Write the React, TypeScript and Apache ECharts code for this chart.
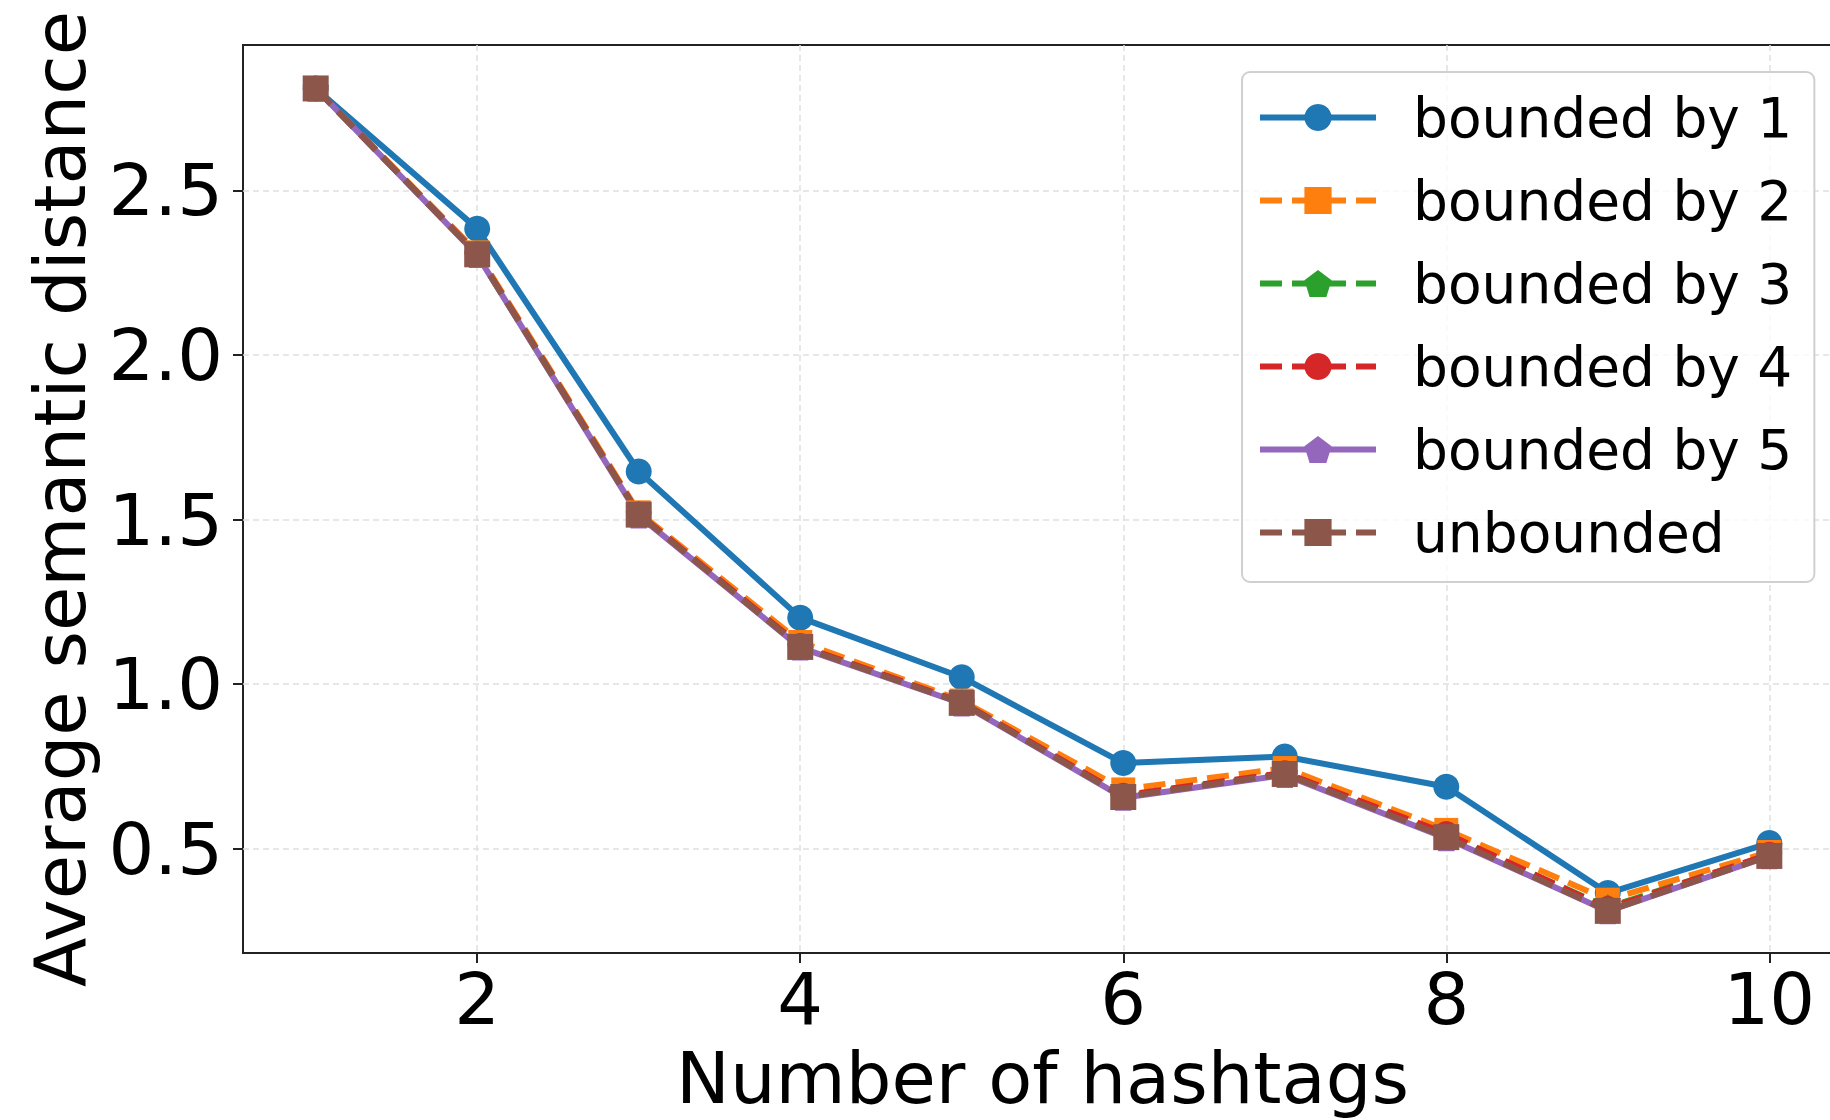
import React, { useEffect, useRef } from "react";
import * as echarts from "echarts";

const hashtags = [1, 2, 3, 4, 5, 6, 7, 8, 9, 10];
const boundedBy1 = [2.81, 2.384, 1.646, 1.202, 1.021, 0.76, 0.78, 0.688, 0.365, 0.517];
const boundedBy2 = [2.81, 2.312, 1.522, 1.128, 0.95, 0.68, 0.745, 0.557, 0.345, 0.49];
const boundedBy3 = [2.81, 2.306, 1.516, 1.115, 0.944, 0.66, 0.729, 0.54, 0.322, 0.481];
const boundedBy4 = [2.81, 2.307, 1.517, 1.117, 0.945, 0.662, 0.731, 0.546, 0.318, 0.483];
const boundedBy5 = [2.81, 2.304, 1.512, 1.111, 0.941, 0.655, 0.724, 0.532, 0.31, 0.477];
const unbounded = [2.81, 2.306, 1.515, 1.113, 0.943, 0.657, 0.727, 0.535, 0.311, 0.478];

const xTicks = [2, 4, 6, 8, 10];
const yTicks = [0.5, 1.0, 1.5, 2.0, 2.5];

const PENTAGON =
  "path://M0,-1 L0.951,-0.309 L0.588,0.809 L-0.588,0.809 L-0.951,-0.309 Z";

const seriesDefs = [
  { name: "bounded by 1", data: boundedBy1, color: "#1f77b4", dash: "solid", symbol: "circle", size: 26 },
  { name: "bounded by 2", data: boundedBy2, color: "#ff7f0e", dash: "dashed", symbol: "rect", size: 24 },
  { name: "bounded by 3", data: boundedBy3, color: "#2ca02c", dash: "dashed", symbol: PENTAGON, size: 26 },
  { name: "bounded by 4", data: boundedBy4, color: "#d62728", dash: "dashed", symbol: "circle", size: 25 },
  { name: "bounded by 5", data: boundedBy5, color: "#9467bd", dash: "solid", symbol: PENTAGON, size: 26 },
  { name: "unbounded", data: unbounded, color: "#8c564b", dash: "dashed", symbol: "rect", size: 26 },
];

const FONT = "DejaVu Sans";

export default function App() {
  const ref = useRef<HTMLDivElement>(null);

  useEffect(() => {
    document.body.style.margin = "0";
    if (!ref.current) return;
    const chart = echarts.init(ref.current, undefined, { renderer: "svg" });

    const series = seriesDefs.map((s) => ({
      name: s.name,
      type: "line",
      data: hashtags.map((x, i) => [x, s.data[i]]),
      symbol: s.symbol,
      symbolSize: s.size,
      showSymbol: true,
      lineStyle: {
        color: s.color,
        width: 6,
        type: s.dash === "solid" ? "solid" : [22, 10],
      },
      itemStyle: { color: s.color, borderWidth: 0 },
      emphasis: { disabled: true },
    }));

    chart.setOption({
      animation: false,
      backgroundColor: "#ffffff",
      textStyle: { fontFamily: FONT },
      grid: {
        left: 243,
        top: 45,
        width: 1599,
        height: 908,
        outerBoundsMode: "none",
        containLabel: false,
        show: true,
        borderColor: "#222",
        borderWidth: 2,
        backgroundColor: "transparent",
      },
      legend: {
        left: 1242,
        top: 72,
        orient: "vertical",
        itemWidth: 116,
        itemHeight: 34,
        itemGap: 28,
        padding: [18, 22, 22, 15],
        backgroundColor: "rgba(255,255,255,0.8)",
        borderColor: "#d0d0d0",
        borderWidth: 2,
        borderRadius: 8,
        lineStyle: { width: "inherit" },
        textStyle: {
          fontFamily: FONT,
          fontSize: 55,
          color: "#000",
          padding: [0, 0, 5, 32],
        },
        data: seriesDefs.map((s) => s.name),
      },
      xAxis: {
        type: "value",
        min: 0.55,
        max: 10.45,
        name: "Number of hashtags",
        nameLocation: "middle",
        nameGap: 89,
        nameTextStyle: { fontFamily: FONT, fontSize: 72, color: "#000" },
        axisLine: { show: false },
        axisTick: {
          show: true,
          length: 10,
          lineStyle: { color: "#222", width: 2 },
          customValues: xTicks,
        },
        axisLabel: {
          fontFamily: FONT,
          fontSize: 72,
          color: "#000",
          margin: 10,
          customValues: xTicks,
          formatter: (v: number) => String(v),
        },
        splitLine: {
          show: true,
          lineStyle: { color: "#e0e0e0", width: 1.5, type: [6, 4] },
        },
      },
      yAxis: {
        type: "value",
        min: 0.183,
        max: 2.942,
        name: "Average semantic distance",
        nameLocation: "middle",
        nameGap: 147,
        nameTextStyle: { fontFamily: FONT, fontSize: 72, color: "#000" },
        axisLine: { show: false },
        axisTick: {
          show: true,
          length: 10,
          lineStyle: { color: "#222", width: 2 },
          customValues: yTicks,
        },
        axisLabel: {
          fontFamily: FONT,
          fontSize: 72,
          color: "#000",
          margin: 20,
          customValues: yTicks,
          formatter: (v: number) => v.toFixed(1),
        },
        splitLine: {
          show: true,
          lineStyle: { color: "#e0e0e0", width: 1.5, type: [6, 4] },
        },
      },
      series,
    });

    return () => chart.dispose();
  }, []);

  return (
    <div
      ref={ref}
      style={{ position: "absolute", left: 0, top: 0, width: 1830, height: 1120 }}
    />
  );
}
